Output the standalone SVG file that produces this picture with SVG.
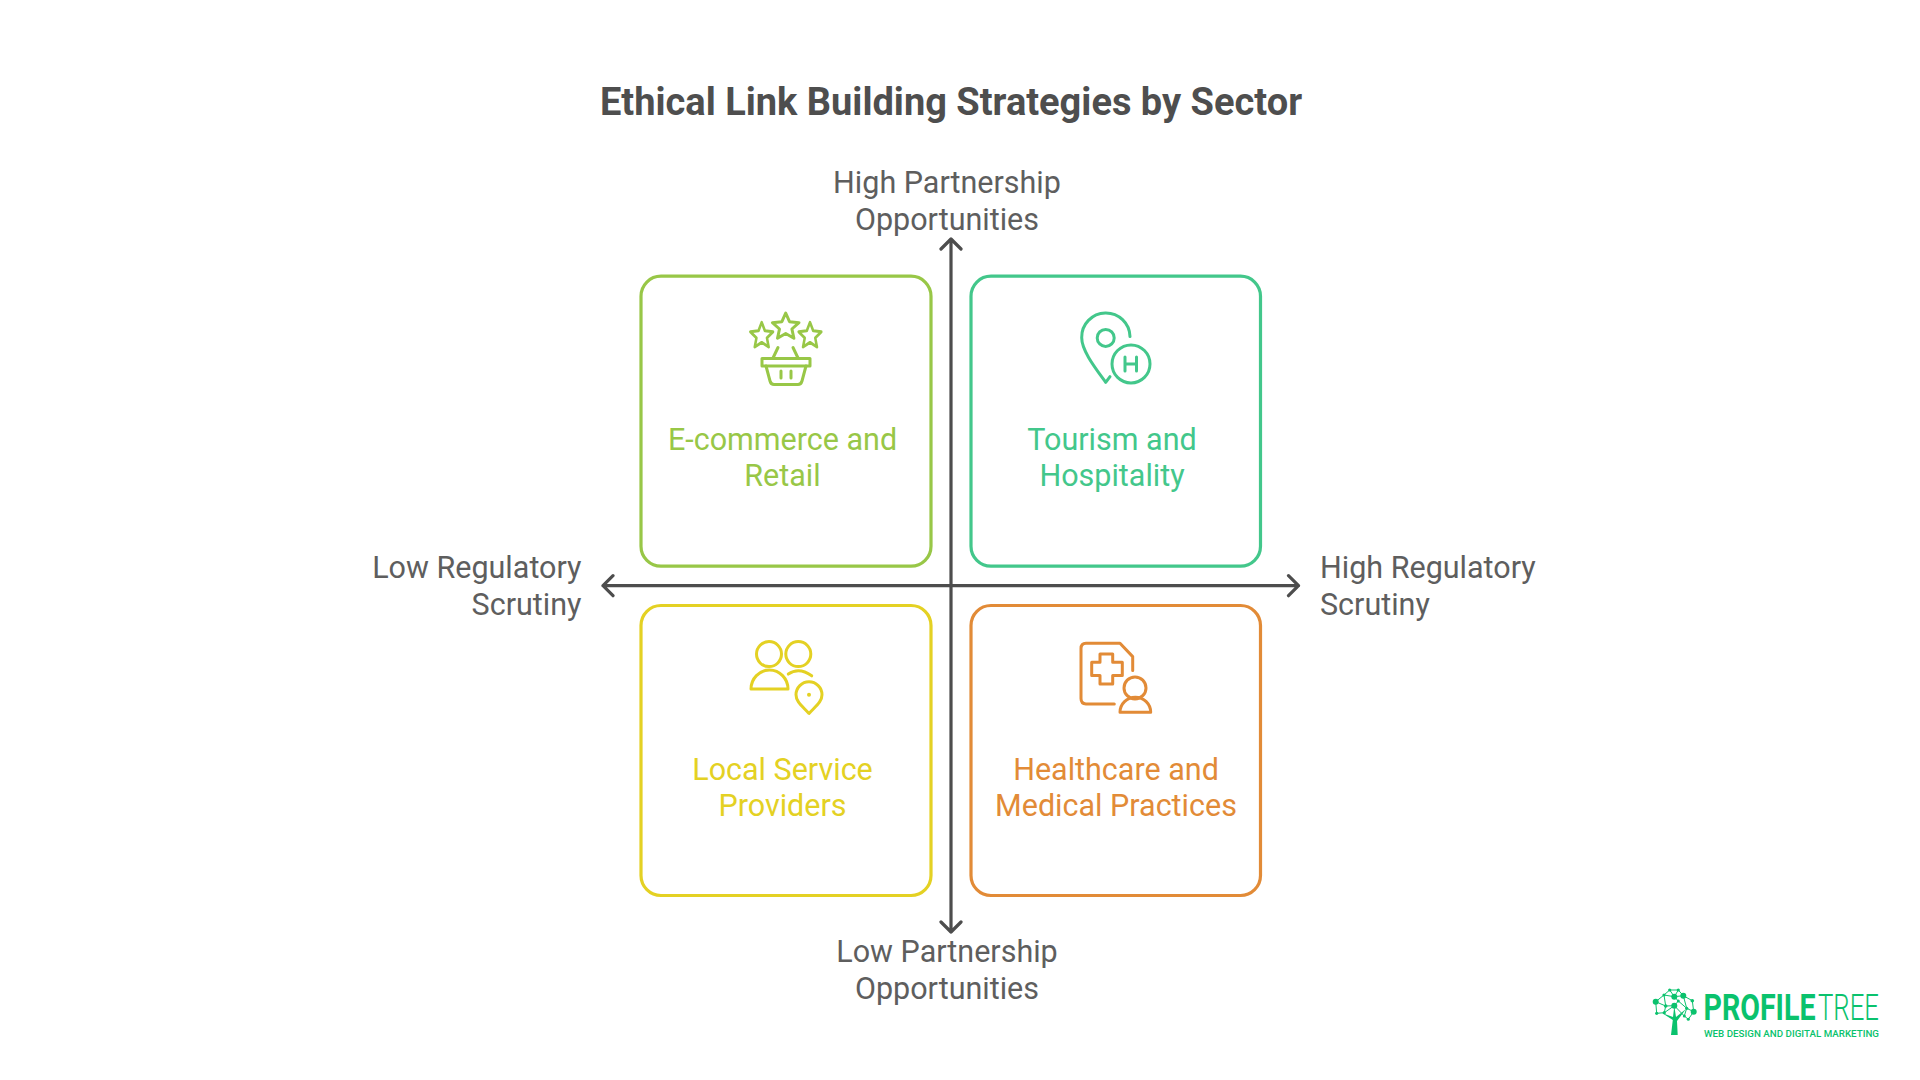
<svg xmlns="http://www.w3.org/2000/svg" width="1920" height="1080" viewBox="0 0 1920 1080">
<style>
text{font-family:Roboto,"Liberation Sans",sans-serif}
.t{font-size:30.5px;text-anchor:middle}
.ax{font-size:30.5px;fill:#5e5e5e}
.m{text-anchor:middle}
.r{text-anchor:end}
.n{fill:none;stroke-width:3.2}
.i{fill:none;stroke-width:3;stroke-linecap:round;stroke-linejoin:round}
.a{fill:none;stroke:#4d4d4d;stroke-width:3.2;stroke-linecap:round;stroke-linejoin:round}
.g{stroke:#98c747}.tg{fill:#98c747}
.e{stroke:#43c78b}.te{fill:#43c78b}
.y{stroke:#e4d123}.ty{fill:#e4d123}
.o{stroke:#e28b37}.to{fill:#e28b37}
.lg{fill:#0ac26d}
.ll{stroke:#0ac26d;stroke-width:1;fill:none}
</style>
<defs>
<path id="star" d="M0-14L3.8-5.3 13.3-4.3 6.2 2 8.2 11.3 0 6.5-8.2 11.3-6.2 2-13.3-4.3-3.8-5.3Z"/>
</defs>
<rect width="1920" height="1080" fill="#fff"/>
<text x="951" y="115" font-size="38" font-weight="700" fill="#4e4e4e" class="m">Ethical Link Building Strategies by Sector</text>
<g id="connectors">
<path class="a" d="M951 239V932M941 249L951 239L961 249M941 922L951 932L961 922"/>
<path class="a" d="M603 585.7H1298.5M613 575.7L603 585.7L613 595.7M1288.5 575.7L1298.5 585.7L1288.5 595.7"/>
</g>
<g id="axis-labels">
<text class="ax m" x="947" y="193">High Partnership</text>
<text class="ax m" x="947" y="230">Opportunities</text>
<text class="ax m" x="947" y="962">Low Partnership</text>
<text class="ax m" x="947" y="999">Opportunities</text>
<text class="ax r" x="581.500" y="578">Low Regulatory</text>
<text class="ax r" x="581.500" y="615">Scrutiny</text>
<text class="ax" x="1320" y="578">High Regulatory</text>
<text class="ax" x="1320" y="615">Scrutiny</text>
</g>
<g id="node-ecommerce">
<rect class="n g" x="641" y="276.200" width="290" height="290" rx="20"/>
<g class="i g">
<use href="#star" x="785.700" y="327"/>
<use href="#star" transform="translate(761.700 336) scale(.85 .98)"/>
<use href="#star" transform="translate(810 336) scale(.85 .98)"/>
<path d="M778 347.500l-5 10.500M793 347.500l5 10.500"/>
<path d="M762 358.500h48v7.500h-48z"/>
<path d="M766 366l4 15q1 3.500 4 3.500h24q3 0 4-3.500l4-15"/>
<path d="M781 371v7M791 371v7"/>
</g>
<text class="t tg" x="782.500" y="450">E-commerce and</text>
<text class="t tg" x="782.500" y="486">Retail</text>
</g>
<g id="node-tourism">
<rect class="n e" x="971" y="276.200" width="289.500" height="290" rx="20"/>
<g class="i e" transform="translate(0 .6)">
<path d="M1130 336A24 24 0 0 0 1081.700 337C1081.700 350 1095 367 1105.700 381.700L1110 376"/>
<circle cx="1105.700" cy="337.300" r="8.500"/>
<circle cx="1131" cy="363.300" r="19"/>
<path d="M1125 356.500V370.500M1136.500 356.500V370.500M1125 363.500H1136.500"/>
</g>
<text class="t te" x="1112" y="450">Tourism and</text>
<text class="t te" x="1112" y="486">Hospitality</text>
</g>
<g id="node-local">
<rect class="n y" x="641" y="605.500" width="290" height="290" rx="20"/>
<g class="i y" transform="translate(0 .8)">
<circle cx="769" cy="653.300" r="12.500"/>
<circle cx="798.300" cy="653.300" r="12.500"/>
<path d="M751 688.300A18.500 19 0 0 1 788 688.300Z"/>
<path d="M788.300 673.300Q799 666 811.700 675"/>
<path d="M809 712.700C802 705 796 701 796 694A13 13 0 0 1 822 694C822 701 816 705 809 712.700Z"/>
</g>
<circle class="ty" cx="809" cy="694.800" r="2"/>
<text class="t ty" x="782.500" y="780">Local Service</text>
<text class="t ty" x="782.500" y="816">Providers</text>
</g>
<g id="node-healthcare">
<rect class="n o" x="971" y="605.500" width="289.500" height="290" rx="20"/>
<g class="i o" transform="translate(0 .6)">
<path d="M1132.700 670V656L1120 642.700H1086Q1081 642.700 1081 648V698Q1081 703.300 1086 703.300H1114.300"/>
<path d="M1100 653.300H1112.700V661.700H1122.300V675H1112.700V683.300H1100V675H1091.700V661.700H1100Z"/>
<circle cx="1135" cy="687.300" r="11"/>
<path d="M1120 711.700A15.300 15 0 0 1 1150.700 711.700Z"/>
</g>
<text class="t to" x="1116" y="780">Healthcare and</text>
<text class="t to" x="1116" y="816">Medical Practices</text>
</g>
<g id="logo">
<path class="ll" d="M1655.700 1001.700L1664 995 1669.700 990H1678.300L1683.300 995.700 1692.300 1000.700 1693.700 1011.700 1686.700 1008.300 1683.300 995.700 1674.300 996.700 1664 995 1665.700 1006 1655.700 1001.700 1656.700 1013.300 1664.300 1012.700 1665.700 1006 1674.300 1005.700 1678.300 1001 1674.300 996.700M1678.300 1001L1686.700 1008.300 1684.300 1016 1688.300 1019.300 1693.700 1011.700M1674.300 1005.700L1684.300 1016M1674.300 1005.700L1664.300 1012.700M1669.700 990L1674.300 996.700 1678.300 990"/>
<path class="lg" d="M1671 1035L1672.800 1020 1662 1013 1673 1017 1674.300 1006 1676 1017 1686 1009 1677 1021 1677.700 1035Z"/>
<g class="lg">
<circle cx="1655.700" cy="1001.700" r="3"/><circle cx="1669.700" cy="990" r="1.600"/><circle cx="1678.300" cy="990" r="1.600"/>
<circle cx="1664" cy="995" r="1.600"/><circle cx="1674.300" cy="996.700" r="3"/><circle cx="1683.300" cy="995.700" r="3"/>
<circle cx="1692.300" cy="1000.700" r="1.800"/><circle cx="1665.700" cy="1006" r="1.800"/><circle cx="1678.300" cy="1001" r="1.500"/>
<circle cx="1674.300" cy="1005.700" r="3"/><circle cx="1693.700" cy="1011.700" r="3"/><circle cx="1686.700" cy="1008.300" r="1.600"/>
<circle cx="1684.300" cy="1016" r="1.500"/><circle cx="1688.300" cy="1019.300" r="1.500"/><circle cx="1656.700" cy="1013.300" r="1.600"/><circle cx="1664.300" cy="1012.700" r="1.600"/>
</g>
<text class="lg" x="1703.500" y="1019.500" font-size="37" font-weight="700" textLength="112" lengthAdjust="spacingAndGlyphs">PROFILE</text>
<text class="lg" x="1818" y="1019.500" font-size="37" font-weight="300" textLength="61" lengthAdjust="spacingAndGlyphs">TREE</text>
<text class="lg" x="1704" y="1036.500" font-size="8.800" font-weight="500" textLength="175" lengthAdjust="spacingAndGlyphs">WEB DESIGN AND DIGITAL MARKETING</text>
</g>
</svg>
